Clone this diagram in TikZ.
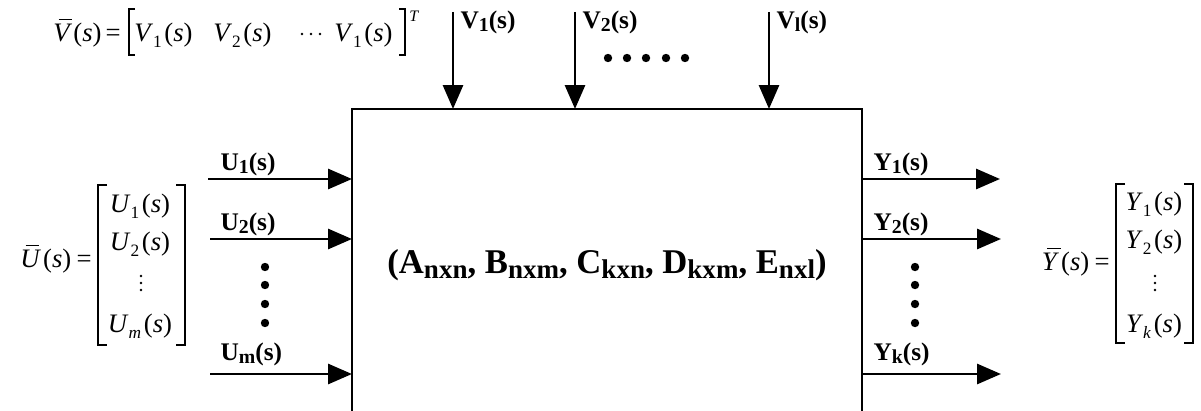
\documentclass[tikz,border=0pt]{standalone}
\usepackage{fontspec}
\setmainfont{Liberation Serif}
\usetikzlibrary{arrows.meta}
\newcommand{\lsub}[1]{\raisebox{-0.32ex}{\scalebox{0.78}{#1}}}
\newcommand{\msub}[1]{\raisebox{-0.5ex}{\fontsize{13}{13}\selectfont #1}}
\newcommand{\barred}[1]{\makebox[0pt][l]{\hspace{0.2em}\rule[0.78em]{0.5em}{0.045em}}\textit{#1}}
\newcommand{\ent}[2]{\textit{#1}\msub{#2}\hspace{0.1em}(\textit{s})}
\tikzset{
  arr/.style={line width=2.2pt,-{Triangle[length=18pt,width=15pt]}},
  boxline/.style={line width=1.3pt},
  lbl/.style={font=\fontsize{19}{22}\selectfont\bfseries,inner sep=1pt},
  eqn/.style={font=\fontsize{20}{24}\selectfont,inner sep=0pt,anchor=base},
  brk/.style={line width=0.9pt},
  dotc/.style={fill=black,draw=none},
}
\begin{document}
\begin{tikzpicture}[x=0.75pt,y=-0.75pt]
\useasboundingbox (0,0) rectangle (1201,410);
% box
\coordinate (bl) at (352,412);
\coordinate (tl) at (352,109);
\coordinate (tr) at (862,109);
\coordinate (br) at (862,412);
\draw[boxline] (bl) -- (tl) -- (tr) -- (br);
\node[font=\fontsize{26}{30}\selectfont\bfseries,inner sep=0pt] (sys) at (607,265)
  {(A\lsub{nxn}, B\lsub{nxm}, C\lsub{kxn}, D\lsub{kxm}, E\lsub{nxl})};
% V inputs
\coordinate (v1) at (453,12); \coordinate (v1e) at (453,109);
\coordinate (v2) at (575,12); \coordinate (v2e) at (575,109);
\coordinate (vl) at (769,12); \coordinate (vle) at (769,109);
\draw[arr] (v1) -- (v1e);
\draw[arr] (v2) -- (v2e);
\draw[arr] (vl) -- (vle);
\node[lbl,anchor=north west] (lv1) at (459,9) {V\lsub{1}(s)};
\node[lbl,anchor=north west] (lv2) at (581,9) {V\lsub{2}(s)};
\node[lbl,anchor=north west] (lvl) at (775,9) {V\lsub{l}(s)};
\foreach \x in {608,627,646,666,685} \fill[dotc] (\x,58) circle (4.2);
% U inputs
\coordinate (u1) at (208,179); \coordinate (u1e) at (352,179);
\coordinate (u2) at (210,239); \coordinate (u2e) at (352,239);
\coordinate (um) at (210,374); \coordinate (ume) at (352,374);
\draw[arr] (u1) -- (u1e);
\draw[arr] (u2) -- (u2e);
\draw[arr] (um) -- (ume);
\node[lbl,anchor=south west] (lu1) at (219,177) {U\lsub{1}(s)};
\node[lbl,anchor=south west] (lu2) at (219,237) {U\lsub{2}(s)};
\node[lbl,anchor=south west] (lum) at (219,367) {U\lsub{m}(s)};
\foreach \y in {267,285,304,323} \fill[dotc] (265,\y) circle (4.2);
% Y outputs
\coordinate (y1s) at (862,179); \coordinate (y1) at (1000,179);
\coordinate (y2s) at (862,239); \coordinate (y2) at (1001,239);
\coordinate (yks) at (862,374); \coordinate (yk) at (1001,374);
\draw[arr] (y1s) -- (y1);
\draw[arr] (y2s) -- (y2);
\draw[arr] (yks) -- (yk);
\node[lbl,anchor=south west] (ly1) at (872,177) {Y\lsub{1}(s)};
\node[lbl,anchor=south west] (ly2) at (872,237) {Y\lsub{2}(s)};
\node[lbl,anchor=south west] (lyk) at (872,367) {Y\lsub{k}(s)};
\foreach \y in {267,285,304,323} \fill[dotc] (915,\y) circle (4.2);
% ---- V-bar equation
\node[eqn,anchor=base west] (vlhs) at (53,41) {\barred{V}\hspace{0.05em}(\textit{s})\hspace{0.15em}=};
\node[eqn,anchor=base west] (ve1) at (134,41) {\ent{V}{1}};
\node[eqn,anchor=base west] (ve2) at (213,41) {\ent{V}{2}};
\node[eqn,anchor=base west] (ve3) at (334,41) {\ent{V}{1}};
\foreach \x in {302,311,320} \fill[dotc] (\x,34) circle (1.3);
\draw[brk] (135,9) -- (129,9) -- (129,55) -- (135,55);
\draw[brk] (399,9) -- (405,9) -- (405,55) -- (399,55);
\node[eqn,anchor=base west,font=\fontsize{12}{12}\selectfont\itshape] (vT) at (409,22) {T};
% ---- U-bar equation
\node[eqn,anchor=base east] (ulhs) at (92,267) {\barred{U}\hspace{0.08em}(\textit{s})\hspace{0.2em}=};
\node[eqn] (ue1) at (140,212) {\ent{U}{1}};
\node[eqn] (ue2) at (140,250) {\ent{U}{2}};
\node[eqn] (ue4) at (140,332) {\ent{U}{\textit{m}}};
\foreach \y in {276,283,290} \fill[dotc] (141,\y) circle (1.3);
\draw[brk] (107,185) -- (98,185) -- (98,345) -- (107,345);
\draw[brk] (176,185) -- (185,185) -- (185,345) -- (176,345);
% ---- Y-bar equation
\node[eqn,anchor=base east] (ylhs) at (1110,270) {\barred{Y}\hspace{0.08em}(\textit{s})\hspace{0.2em}=};
\node[eqn] (ye1) at (1154,210) {\ent{Y}{1}};
\node[eqn] (ye2) at (1154,248) {\ent{Y}{2}};
\node[eqn] (ye4) at (1154,332) {\ent{Y}{\textit{k}}};
\foreach \y in {276,283,290} \fill[dotc] (1155,\y) circle (1.3);
\draw[brk] (1125,184) -- (1116,184) -- (1116,343) -- (1125,343);
\draw[brk] (1184,184) -- (1193,184) -- (1193,343) -- (1184,343);
\end{tikzpicture}
\end{document}
